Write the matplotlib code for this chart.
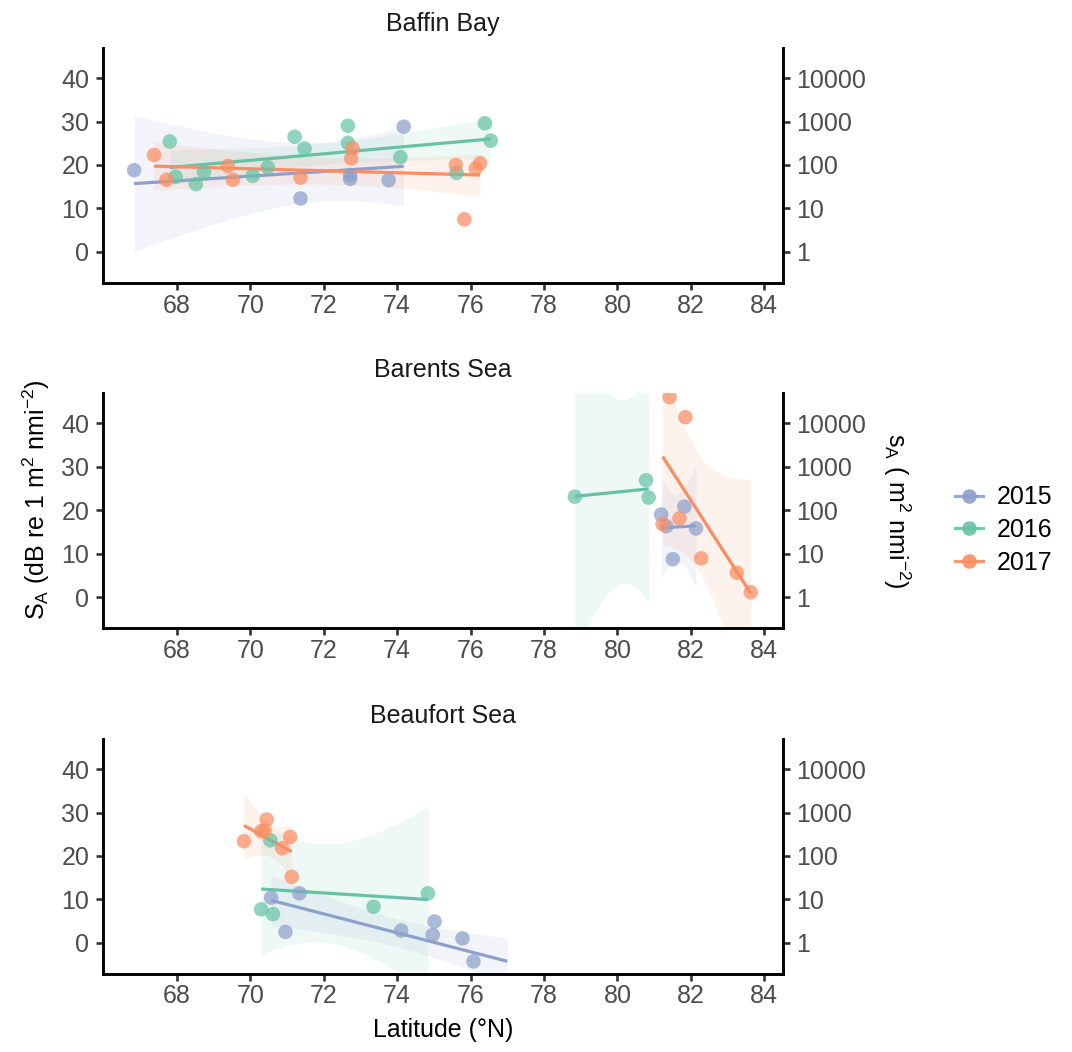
import numpy as np
import matplotlib
matplotlib.use('Agg')
import matplotlib.pyplot as plt
from matplotlib.lines import Line2D

plt.rcParams['font.family'] = 'Liberation Sans'
plt.rcParams['mathtext.fontset'] = 'custom'
plt.rcParams['mathtext.rm'] = 'Liberation Sans'
plt.rcParams['mathtext.it'] = 'Liberation Sans:italic'
plt.rcParams['mathtext.default'] = 'regular'
plt.rcParams['font.size'] = 18

years = ['2015', '2016', '2017']
cores = {'2015': '#8DA0CB', '2016': '#66C2A5', '2017': '#FC8D62'}
regioes = ['Baffin Bay', 'Barents Sea', 'Beaufort Sea']

# latitude (°N) e S_A (dB re 1 m2 nmi-2) por regiao e ano
baffin_lat_2015 = [66.84, 71.37, 72.72, 72.72, 73.77, 74.18]
baffin_sa_2015 = [18.8, 12.3, 17.7, 16.8, 16.5, 28.8]
baffin_lat_2016 = [67.81, 67.97, 68.52, 68.74, 70.07, 70.48, 71.21, 71.48,
                   72.66, 72.66, 74.09, 75.62, 76.39, 76.55]
baffin_sa_2016 = [25.4, 17.3, 15.6, 18.3, 17.5, 19.5, 26.5, 23.8,
                  29.0, 25.1, 21.8, 18.2, 29.6, 25.6]
baffin_lat_2017 = [67.38, 67.72, 69.39, 69.53, 71.37, 72.79, 72.75,
                   75.60, 75.83, 76.14, 76.26]
baffin_sa_2017 = [22.3, 16.6, 19.8, 16.6, 17.1, 23.8, 21.5,
                  20.0, 7.5, 19.2, 20.4]

barents_lat_2015 = [81.19, 81.33, 81.82, 82.14, 81.51]
barents_sa_2015 = [19.0, 16.3, 20.8, 15.8, 8.7]
barents_lat_2016 = [78.84, 80.78, 80.85]
barents_sa_2016 = [23.1, 26.9, 22.9]
barents_lat_2017 = [81.42, 81.85, 81.23, 81.69, 82.28, 83.25, 83.63]
barents_sa_2017 = [46.0, 41.4, 16.8, 18.1, 8.9, 5.6, 1.1]

beaufort_lat_2015 = [70.57, 71.34, 70.96, 74.11, 75.02, 74.97, 75.78, 76.08, 77.00]
beaufort_sa_2015 = [10.4, 11.4, 2.5, 2.8, 4.9, 1.8, 1.0, -4.3, -9.5]
beaufort_lat_2016 = [70.55, 70.30, 70.62, 73.36, 74.84]
beaufort_sa_2016 = [23.6, 7.7, 6.6, 8.3, 11.4]
beaufort_lat_2017 = [69.83, 70.45, 70.30, 70.39, 70.87, 71.09, 71.13]
beaufort_sa_2017 = [23.4, 28.4, 25.7, 25.9, 21.8, 24.4, 15.2]

dados = {
    'Baffin Bay': {'2015': (baffin_lat_2015, baffin_sa_2015),
                   '2016': (baffin_lat_2016, baffin_sa_2016),
                   '2017': (baffin_lat_2017, baffin_sa_2017)},
    'Barents Sea': {'2015': (barents_lat_2015, barents_sa_2015),
                    '2016': (barents_lat_2016, barents_sa_2016),
                    '2017': (barents_lat_2017, barents_sa_2017)},
    'Beaufort Sea': {'2015': (beaufort_lat_2015, beaufort_sa_2015),
                     '2016': (beaufort_lat_2016, beaufort_sa_2016),
                     '2017': (beaufort_lat_2017, beaufort_sa_2017)},
}

# quantil t de Student (97.5%) para o intervalo de 95%
T975 = {1: 12.706, 2: 4.303, 3: 3.182, 4: 2.776, 5: 2.571, 6: 2.447, 7: 2.365,
        8: 2.306, 9: 2.262, 10: 2.228, 11: 2.201, 12: 2.179, 13: 2.160}


def ajuste_linear(x, y):
    x = np.asarray(x, float)
    y = np.asarray(y, float)
    n = len(x)
    b, a = np.polyfit(x, y, 1)
    xs = np.linspace(x.min(), x.max(), 80)
    ys = a + b * xs
    s = np.sqrt(np.sum((y - (a + b * x)) ** 2) / (n - 2))
    sxx = np.sum((x - x.mean()) ** 2)
    se = s * np.sqrt(1 / n + (xs - x.mean()) ** 2 / sxx)
    t = T975[n - 2]
    return xs, ys, ys - t * se, ys + t * se


XLIM = (66.0, 84.5)
YLIM = (-7.2, 46.9)

fig = plt.figure(figsize=(10.72, 10.52), dpi=100)
W, H = 1072, 1052
esq, dirt = 103.3, 782.7
paineis = [(48, 283.3), (393.3, 628.3), (739.3, 974)]

for regiao, (topo, base) in zip(regioes, paineis):
    ax = fig.add_axes([esq / W, 1 - base / H, (dirt - esq) / W, (base - topo) / H])
    for ano in years:
        lat, sa = dados[regiao][ano]
        c = cores[ano]
        xs, ys, lo, hi = ajuste_linear(lat, sa)
        ax.fill_between(xs, lo, hi, color=c, alpha=0.11, lw=0)
        ax.plot(xs, ys, color=c, lw=2.3, solid_capstyle='butt', zorder=3)
        ax.scatter(lat, sa, s=110, color=c, alpha=0.72, edgecolors='none', zorder=4)
    ax.set_xlim(*XLIM)
    ax.set_ylim(*YLIM)
    ax.set_xticks(range(68, 85, 2))
    ax.set_yticks([0, 10, 20, 30, 40])
    ax.set_title(regiao, fontsize=18, color='#1A1A1A', pad=12)
    for lado in ['top', 'right']:
        ax.spines[lado].set_visible(False)
    for lado in ['left', 'bottom']:
        ax.spines[lado].set_linewidth(2.1)
    ax.tick_params(length=5, width=1.9, color='#333333', labelcolor='#4D4D4D',
                   labelsize=18)
    ax.tick_params(axis='x', pad=2.5)
    ax.tick_params(axis='y', pad=5)

    # eixo secundario em escala linear (m2 nmi-2)
    ax2 = ax.twinx()
    ax2.set_yscale('log')
    ax2.set_ylim(10 ** (YLIM[0] / 10), 10 ** (YLIM[1] / 10))
    ax2.set_yticks([1, 10, 100, 1000, 10000])
    ax2.set_yticklabels(['1', '10', '100', '1000', '10000'])
    ax2.minorticks_off()
    for lado in ['top', 'left', 'bottom']:
        ax2.spines[lado].set_visible(False)
    ax2.spines['right'].set_linewidth(2.1)
    ax2.tick_params(length=5, width=1.9, color='#333333', labelcolor='#4D4D4D',
                    labelsize=18, pad=5)

fig.text(443 / W, 1 - 1030 / H, 'Latitude (°N)', ha='center', va='center', fontsize=18)
fig.text(36 / W, 1 - 500 / H, r'S$_A$ (dB re 1 m$^2$ nmi$^{-2}$)',
         rotation=90, ha='center', va='center', fontsize=18)
fig.text(897 / W, 1 - 511 / H, r's$_A$ ( m$^2$ nmi$^{-2}$)',
         rotation=-90, ha='center', va='center', fontsize=18)

alcas = [Line2D([], [], color=cores[a], lw=2.3, marker='o', markersize=10.5,
                markerfacecolor=cores[a], markeredgecolor='none', alpha=0.9)
         for a in years]
fig.legend(alcas, years, loc='center left', bbox_to_anchor=(955 / W, 1 - 530 / H),
           frameon=False, handlelength=1.1, handletextpad=0.55, labelspacing=0.35,
           borderpad=0, borderaxespad=0, fontsize=18)

fig.savefig('out.png', dpi=100)
